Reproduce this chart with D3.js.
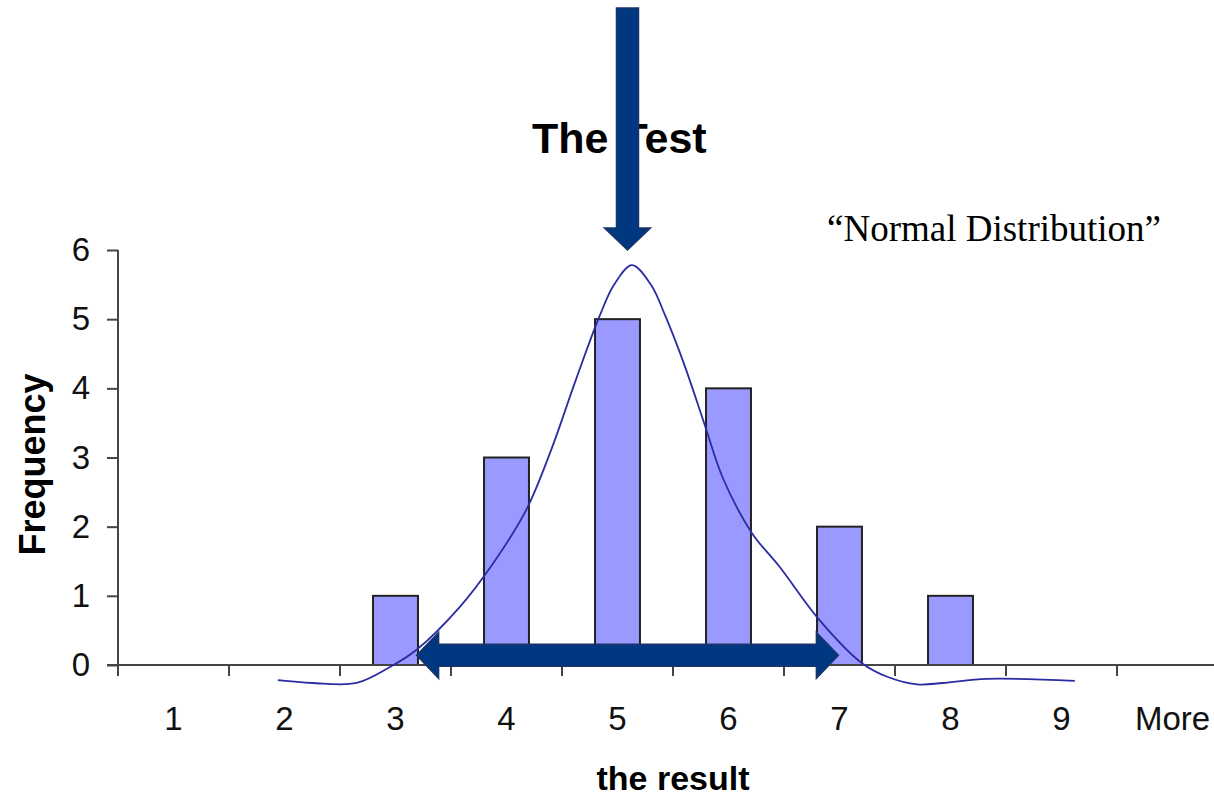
<!DOCTYPE html>
<html>
<head>
<meta charset="utf-8">
<script src="https://cdn.jsdelivr.net/npm/d3@7"></script>
<style>
  body { margin: 0; background: #fff; }
  svg { display: block; font-family: "Liberation Sans", Arial, sans-serif; }
</style>
</head>
<body>
<svg width="1214" height="796"></svg>
<script>
// ---- data ----
let categories = ["1", "2", "3", "4", "5", "6", "7", "8", "9", "More"];
let frequency = [0, 0, 1, 3, 5, 4, 2, 1, 0, 0];
let yTicks = [0, 1, 2, 3, 4, 5, 6];

// hand drawn "normal" curve, x in result units (category centre = 1..10), y in frequency
let curveX = [1.94, 2.25, 2.65, 2.95, 3.19, 3.58, 3.88, 4.18, 4.4, 4.62, 4.84, 4.97, 5.13, 5.3, 5.43, 5.6, 5.78, 5.95, 6.21, 6.46, 6.82, 7.2, 7.43, 7.7, 7.93, 8.33, 9.12];
let curveY = [-0.22, -0.26, -0.26, -0.03, 0.22, 0.84, 1.47, 2.25, 3.1, 4.1, 5.05, 5.5, 5.78, 5.5, 5.05, 4.35, 3.5, 2.7, 1.91, 1.42, 0.65, 0.03, -0.17, -0.28, -0.26, -0.2, -0.23];

// annotation arrows (result units / frequency)
let testArrow = { x: 5.09, tip: 6 };
let rangeArrow = { from: 3.19, to: 6.99, y: 0.14 };

// ---- layout ----
let svg = d3.select("svg"),
    plotLeft = 118, plotRight = 1228, plotBottom = 665, plotTop = 250;

let x = d3.scaleBand().domain(categories).range([plotLeft, plotRight])
    .paddingInner(0.595).paddingOuter(0.2975);
let xc = d3.scaleLinear().domain([0.5, 10.5]).range([plotLeft, plotRight]);
let y = d3.scaleLinear().domain([0, 6]).range([plotBottom, plotTop]);

let axisColor = "#454545", arrowFill = "#003781", arrowStroke = "#1c3466";

// title (drawn first so the arrow hides the "T" of Test)
let title = svg.append("text")
  .attr("x", 532).attr("y", 153)
  .style("font-size", "43px").style("font-weight", "bold");
title.append("tspan").text("The");
title.append("tspan").attr("dx", 1).text(" Test");

svg.append("text")
  .attr("x", 994).attr("y", 241)
  .attr("text-anchor", "middle")
  .style("font-family", "'Liberation Serif', 'Times New Roman', serif")
  .style("font-size", "37px")
  .text("\u201CNormal Distribution\u201D");

// bars
svg.selectAll(".bar")
  .data(categories.map((c, i) => ({ cat: c, value: frequency[i] })).filter(d => d.value > 0))
  .enter().append("rect")
  .attr("class", "bar")
  .attr("x", d => x(d.cat))
  .attr("y", d => y(d.value))
  .attr("width", x.bandwidth())
  .attr("height", d => y(0) - y(d.value))
  .attr("fill", "#9999ff")
  .attr("stroke", "#222")
  .attr("stroke-width", 2);

// y axis
let yAxis = svg.append("g")
  .attr("transform", "translate(" + plotLeft + ",0)")
  .call(d3.axisLeft(y).tickValues(yTicks).tickFormat(d3.format("d"))
    .tickSize(11).tickSizeOuter(0).tickPadding(17));
yAxis.select(".domain").remove();
yAxis.selectAll("line").attr("stroke", axisColor).attr("stroke-width", 2);
yAxis.selectAll("text").style("font-size", "33px").attr("fill", "#111")
  .style("font-family", "'Liberation Sans', Arial, sans-serif");
svg.append("line")
  .attr("x1", plotLeft).attr("x2", plotLeft).attr("y1", plotTop).attr("y2", plotBottom + 11)
  .attr("stroke", axisColor).attr("stroke-width", 2);

// x axis: line, boundary ticks, centred labels
svg.append("line")
  .attr("x1", plotLeft - 11).attr("x2", 1214).attr("y1", plotBottom).attr("y2", plotBottom)
  .attr("stroke", axisColor).attr("stroke-width", 2);
svg.selectAll(".xtick")
  .data(d3.range(categories.length + 1))
  .enter().append("line")
  .attr("class", "xtick")
  .attr("x1", i => plotLeft + x.step() * i).attr("x2", i => plotLeft + x.step() * i)
  .attr("y1", plotBottom).attr("y2", plotBottom + 11)
  .attr("stroke", axisColor).attr("stroke-width", 2);
let xAxis = svg.append("g")
  .attr("transform", "translate(0," + plotBottom + ")")
  .call(d3.axisBottom(x).tickSize(0).tickPadding(42));
xAxis.select(".domain").remove();
xAxis.selectAll("text").style("font-size", "33px").attr("fill", "#111")
  .style("font-family", "'Liberation Sans', Arial, sans-serif");

// axis titles
svg.append("text")
  .attr("transform", "translate(45," + (y(3) + 7) + ") rotate(-90)")
  .attr("text-anchor", "middle")
  .style("font-size", "36px").style("font-weight", "bold")
  .text("Frequency");
svg.append("text")
  .attr("x", 673).attr("y", 790)
  .attr("text-anchor", "middle")
  .style("font-size", "34px").style("font-weight", "bold")
  .text("the result");

// normal curve
let line = d3.line()
  .x(d => xc(d[0])).y(d => y(d[1]))
  .curve(d3.curveCatmullRom);
svg.append("path")
  .datum(curveX.map((v, i) => [v, curveY[i]]))
  .attr("d", line)
  .attr("fill", "none")
  .attr("stroke", "#2b2ba3")
  .attr("stroke-width", 1.8);

// vertical arrow pointing at the peak
let ax = xc(testArrow.x), tip = y(testArrow.tip), sw = 11, hw = 23, hl = 22;
svg.append("path")
  .attr("d", d3.line()([
    [ax - sw, 8], [ax + sw, 8], [ax + sw, tip - hl], [ax + hw, tip - hl], [ax, tip],
    [ax - hw, tip - hl], [ax - sw, tip - hl]
  ]) + "Z")
  .attr("fill", arrowFill).attr("stroke", arrowStroke).attr("stroke-width", 1.5);

// double arrow showing the spread
let x0 = xc(rangeArrow.from), x1 = xc(rangeArrow.to), ay = y(rangeArrow.y);
svg.append("path")
  .attr("d", d3.line()([
    [x0, ay], [x0 + hl, ay - hw], [x0 + hl, ay - sw], [x1 - hl, ay - sw], [x1 - hl, ay - hw],
    [x1, ay], [x1 - hl, ay + hw], [x1 - hl, ay + sw], [x0 + hl, ay + sw], [x0 + hl, ay + hw]
  ]) + "Z")
  .attr("fill", arrowFill).attr("stroke", arrowStroke).attr("stroke-width", 1.5);
</script>
</body>
</html>
